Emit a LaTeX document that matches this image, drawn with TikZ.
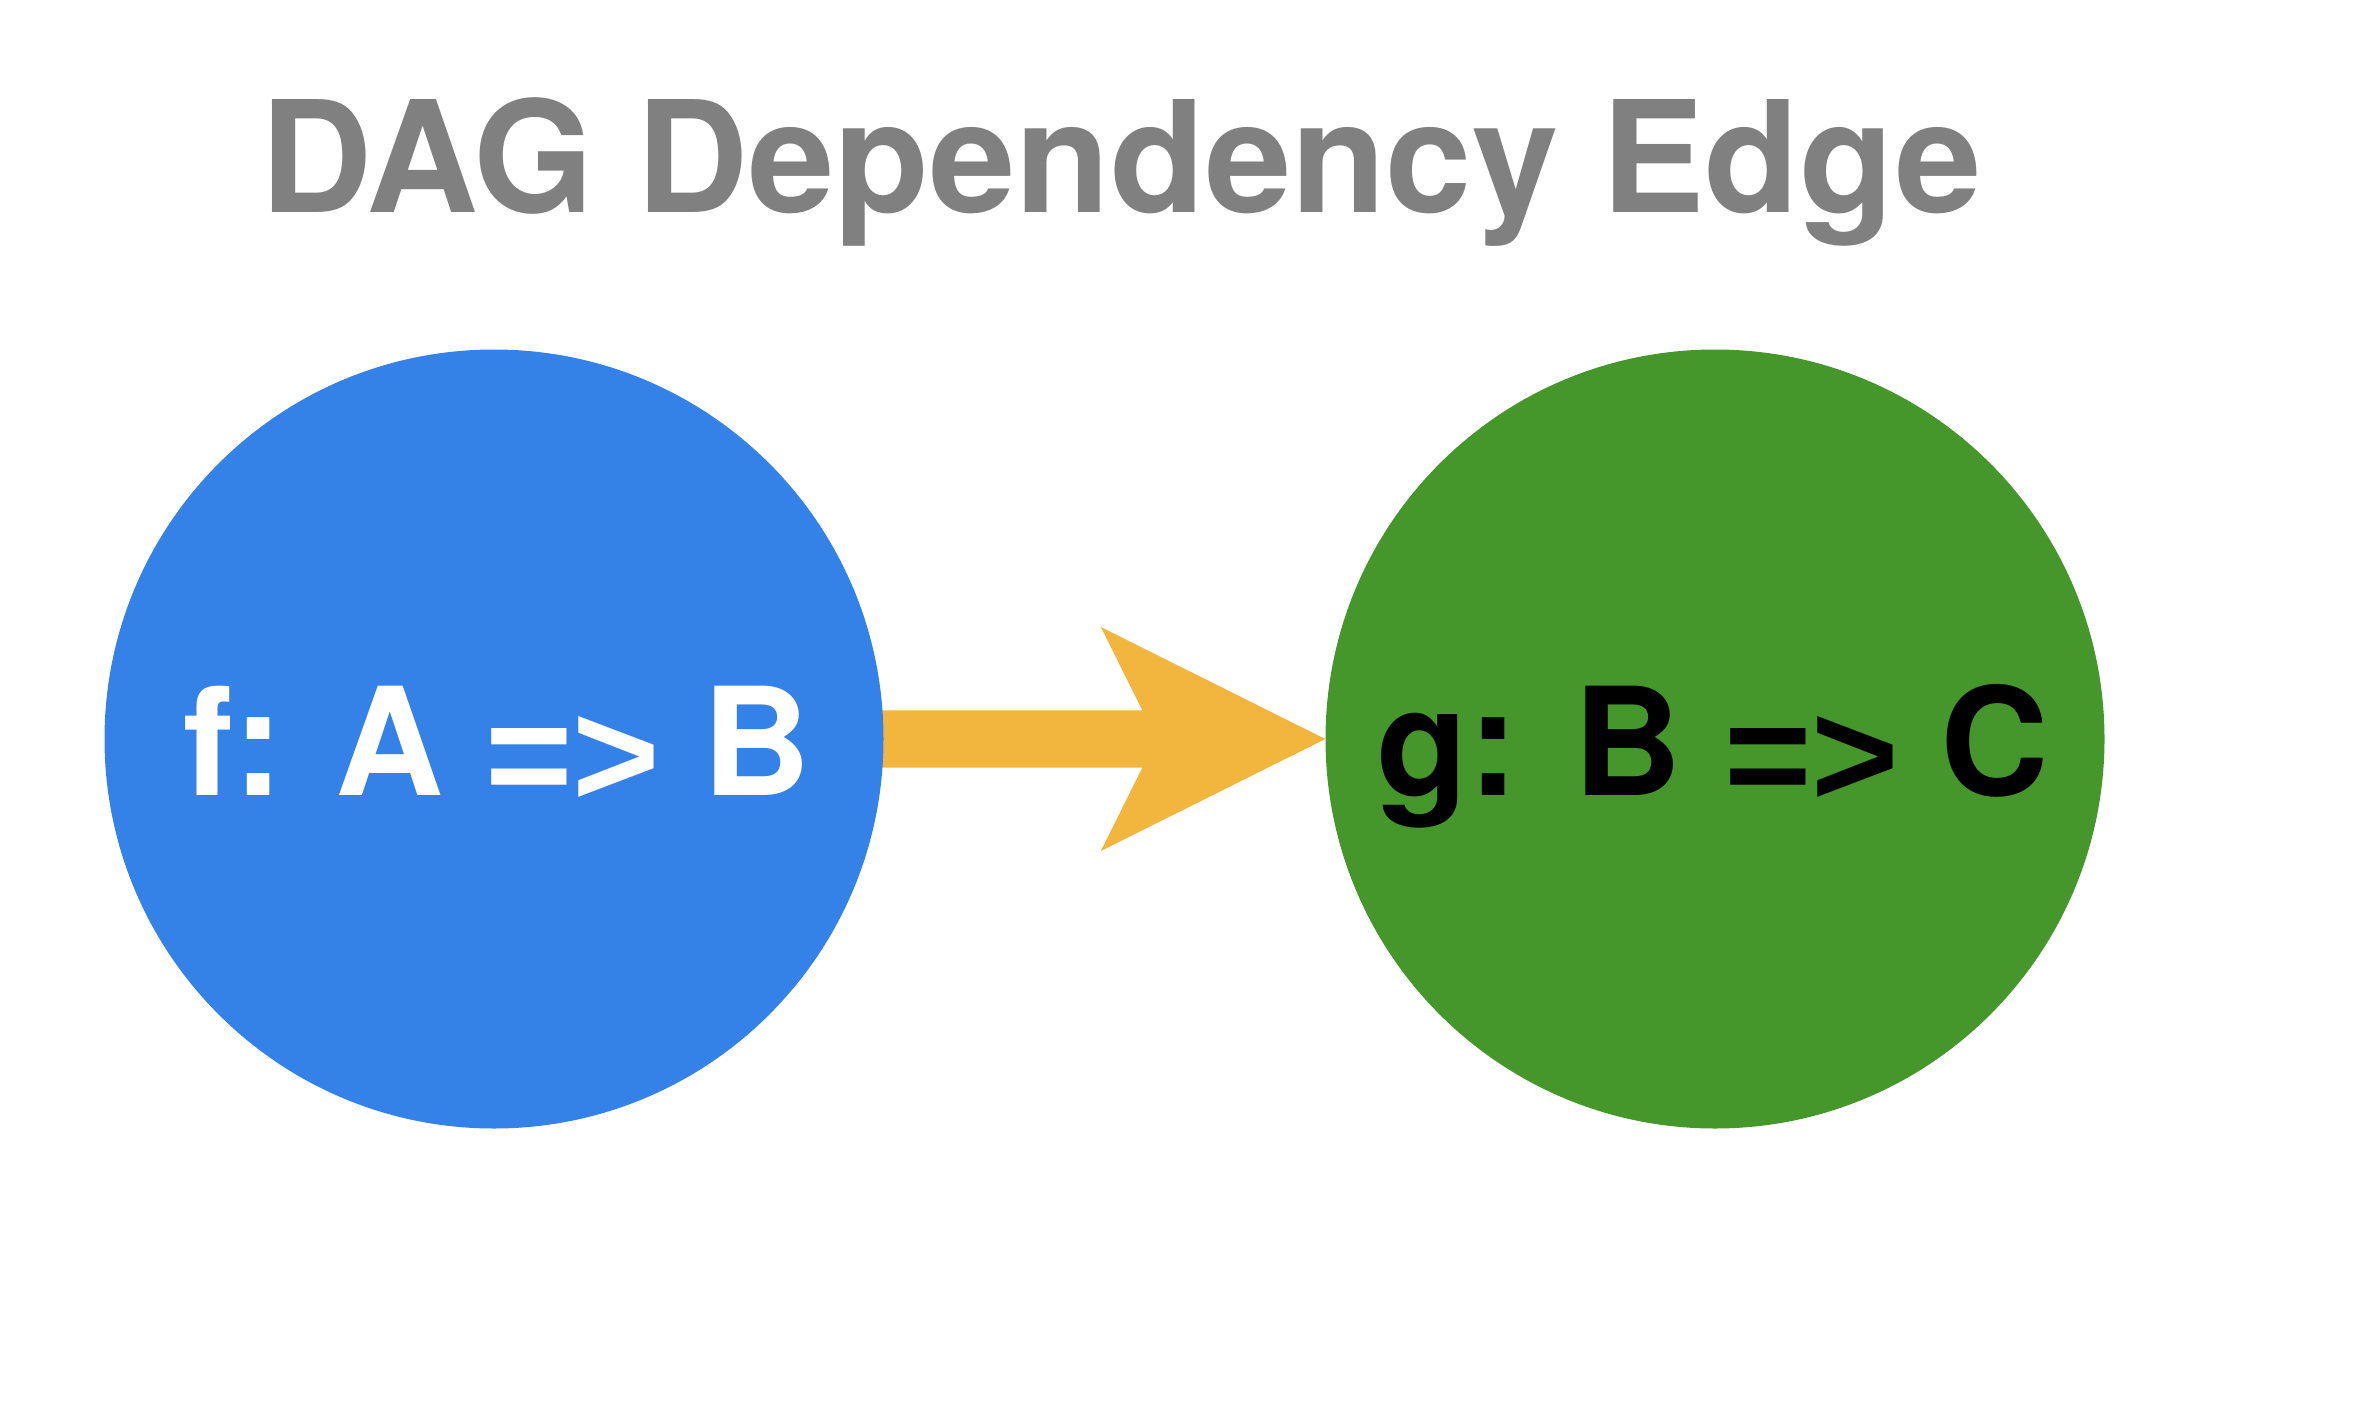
\documentclass[tikz,border=0pt]{standalone}
\usepackage{fontspec}
\setmainfont{TeX Gyre Heros}
\newfontfamily\arrowfont{Liberation Sans}
\usetikzlibrary{calc,backgrounds}

\definecolor{nodeblue}{HTML}{3481E8}
\definecolor{nodegreen}{HTML}{45962B}
\definecolor{edgeorange}{HTML}{F2B63F}
\definecolor{titlegray}{HTML}{808080}

\newcommand{\mapsarrow}{\raisebox{-11pt}{\arrowfont =>}}

\begin{document}
\begin{tikzpicture}[x=1pt,y=-1pt,
  fnode/.style={circle, fill=#1, draw=none, minimum size=779pt, inner sep=0pt},
  lbl/.style={inner sep=0pt, anchor=base, font=\bfseries\fontsize{150}{180}\selectfont},
  heading/.style={inner sep=0pt, anchor=base, text=titlegray, font=\bfseries\fontsize{155}{186}\selectfont},
  edgefill/.style={fill=edgeorange}]
  \useasboundingbox (0,0) rectangle (2360,1402);

  % heading
  \node[heading] (title) at (1121,212) {DAG Dependency Edge};

  % the two functions
  \node[fnode=nodeblue]  (f) at (494,739) {};
  \node[fnode=nodegreen] (g) at (1715,739) {};
  \node[lbl, text=white] (flbl) at ($(f.center)+(3,56)$) {f:\hspace{-4pt} A \mapsarrow{} B};
  \node[lbl, text=black] (glbl) at ($(g.center)+(-2,56)$) {g: B \mapsarrow{} C};

  % dependency edge f -> g (shaft plus notched head), behind the circles
  \begin{scope}[on background layer]
    \fill[edgefill]
      ($(f.east)+(-20,-28.7)$) -- ($(g.west)+(-183,-28.7)$)
      -- ($(g.west)+(-224.5,-112)$) -- (g.west)
      -- ($(g.west)+(-224.5,112)$) -- ($(g.west)+(-183,28.7)$)
      -- ($(f.east)+(-20,28.7)$) -- cycle;
  \end{scope}
\end{tikzpicture}
\end{document}
